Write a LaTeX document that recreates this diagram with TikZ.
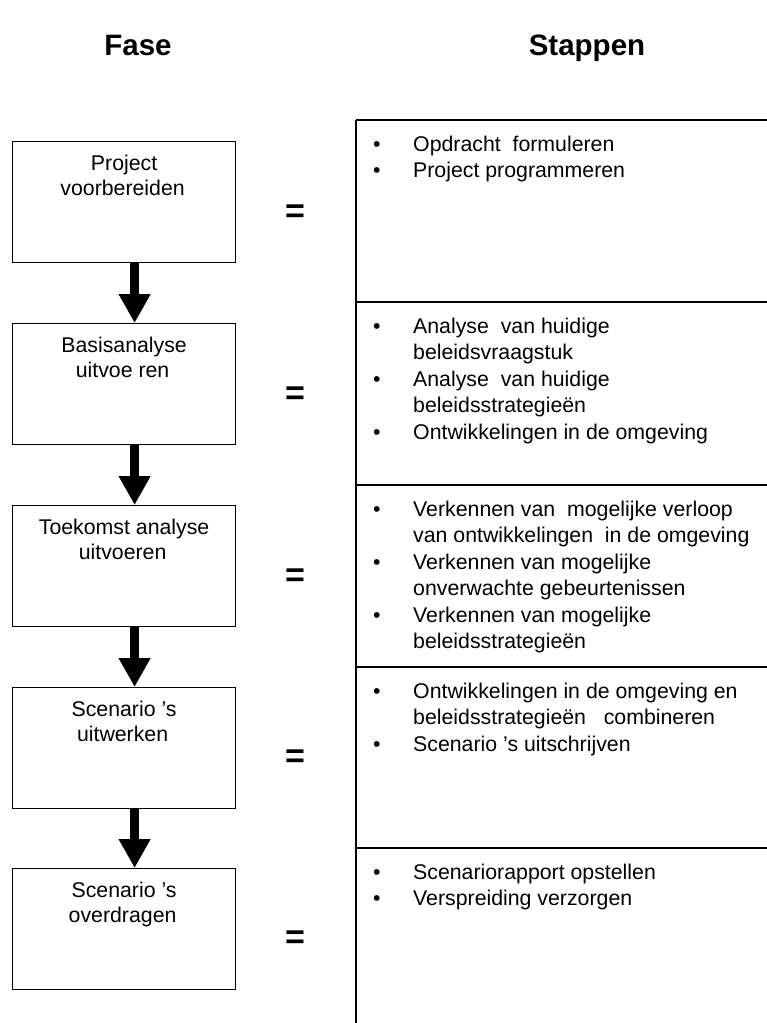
\documentclass[tikz,border=0pt]{standalone}
\usepackage{fontspec}
\setmainfont{Liberation Sans}
\usetikzlibrary{arrows.meta}
\newcommand\phtxt[1]{\parbox[t][121pt][t]{223pt}{\centering\rule{0pt}{29pt}#1\hspace*{3pt}}}
\newcommand\bul{\makebox[40pt][l]{•}}
\newcommand\ind{\hspace*{40pt}}
\newcommand\fst{\rule{0pt}{31pt}}
\begin{document}
\begin{tikzpicture}[x=1pt,y=-1pt,
  phase/.style={draw, line width=1.2pt, inner sep=0pt, anchor=north west,
    minimum width=223pt, minimum height=121pt, font=\fontsize{21.3}{25}\selectfont},
  flow/.style={line width=8.5pt, -{Triangle[width=30pt,length=29pt]}},
  rulel/.style={line width=1.3pt},
  title/.style={font=\fontsize{29.5}{34}\selectfont\bfseries, anchor=base, inner sep=0pt},
  eq/.style={font=\fontsize{34}{40}\selectfont\bfseries, anchor=base, inner sep=0pt},
  steps/.style={anchor=north west, inner sep=0pt, align=left, font=\fontsize{21.3}{26.5}\selectfont}]
\useasboundingbox (0,0) rectangle (767,1023);

% titles
\node[title] (tfase) at (138,55) {Fase};
\node[title] (tstap) at (587,55) {Stappen};

% phase boxes
\node[phase] (b1) at (12,141) {\phtxt{Project\\voorbereiden}};
\node[phase] (b2) at (12,323) {\phtxt{Basisanalyse\\uitvoe ren}};
\node[phase] (b3) at (12,505) {\phtxt{Toekomst analyse\\uitvoeren}};
\node[phase] (b4) at (12,687) {\phtxt{Scenario ’s\\uitwerken}};
\node[phase] (b5) at (12,868) {\phtxt{Scenario ’s\\overdragen}};

% arrows
\draw[flow] ([xshift=10.5pt]b1.south) -- ([xshift=10.5pt]b2.north);
\draw[flow] ([xshift=10.5pt]b2.south) -- ([xshift=10.5pt]b3.north);
\draw[flow] ([xshift=10.5pt]b3.south) -- ([xshift=10.5pt]b4.north);
\draw[flow] ([xshift=10.5pt]b4.south) -- ([xshift=10.5pt]b5.north);

% equal signs
\node[eq] (e1) at (295,222) {=};
\node[eq] (e2) at (295,404) {=};
\node[eq] (e3) at (295,586) {=};
\node[eq] (e4) at (295,767) {=};
\node[eq] (e5) at (295,948) {=};

% steps table
\coordinate (ttop) at (356,120);
\coordinate (tbot) at (356,1023);
\draw[rulel] (ttop) -- (tbot);
\foreach \yy in {120,302,485,667,848} {
  \draw[rulel] (356,\yy) -- (767,\yy);
}

\node[steps] (s1) at (373,120) {\fst\bul Opdracht~ formuleren\\
\bul Project programmeren};
\node[steps] (s2) at (373,302) {\fst\bul Analyse~ van huidige\\
\ind beleidsvraagstuk\\
\bul Analyse~ van huidige\\
\ind beleidsstrategieën\\
\bul Ontwikkelingen in de omgeving};
\node[steps] (s3) at (373,485) {\fst\bul Verkennen van~ mogelijke verloop\\
\ind van ontwikkelingen~ in de omgeving\\
\bul Verkennen van mogelijke\\
\ind onverwachte gebeurtenissen\\
\bul Verkennen van mogelijke\\
\ind beleidsstrategieën};
\node[steps] (s4) at (373,667) {\fst\bul Ontwikkelingen in de omgeving en\\
\ind beleidsstrategieën~ ~combineren\\
\bul Scenario ’s uitschrijven};
\node[steps] (s5) at (373,848) {\fst\bul Scenariorapport opstellen\\
\bul Verspreiding verzorgen};
\end{tikzpicture}
\end{document}
